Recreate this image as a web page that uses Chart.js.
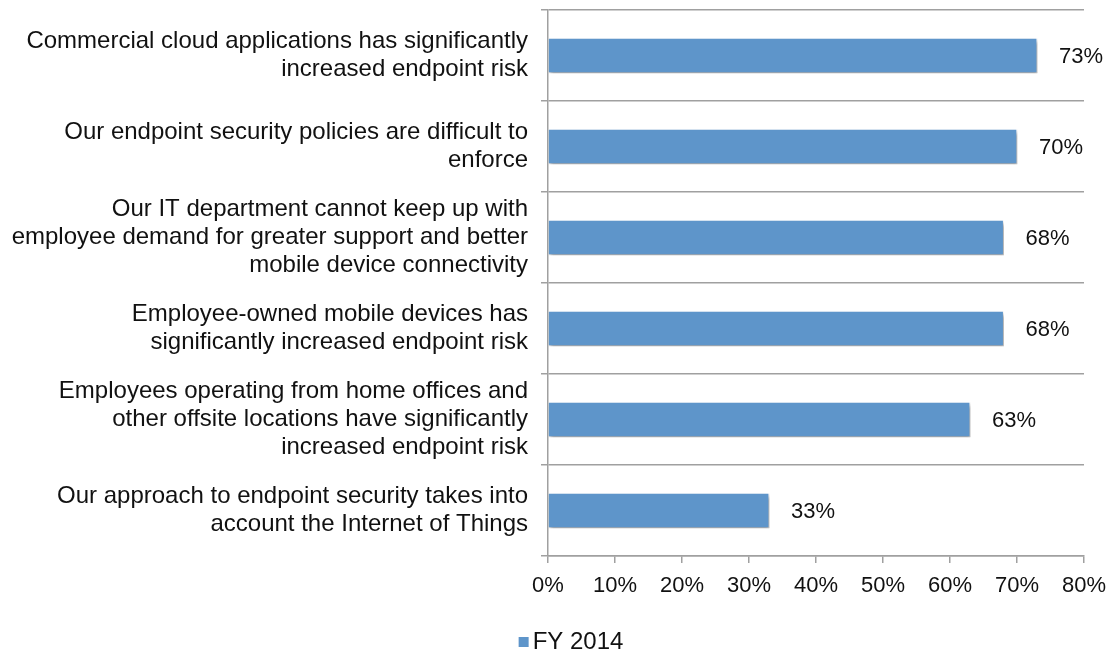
<!DOCTYPE html>
<html>
<head>
<meta charset="utf-8">
<script src="https://cdn.jsdelivr.net/npm/chart.js@4.4.1/dist/chart.umd.min.js"></script>
<style>
  html, body { margin: 0; padding: 0; background: #fff; }
  #wrap { width: 1112px; height: 656px; }
</style>
</head>
<body>
<div id="wrap"><canvas id="c" width="1112" height="656"></canvas></div>
<script>
// Survey statements (multi-line category labels)
const categories = [
  ["Commercial cloud applications has significantly", "increased endpoint risk"],
  ["Our endpoint security policies are difficult to", "enforce"],
  ["Our IT department cannot keep up with", "employee demand for greater support and better", "mobile device connectivity"],
  ["Employee-owned mobile devices has", "significantly increased endpoint risk"],
  ["Employees operating from home offices and", "other offsite locations have significantly", "increased endpoint risk"],
  ["Our approach to endpoint security takes into", "account the Internet of Things"]
];
const seriesName = "FY 2014";
const fy2014 = [73, 70, 68, 68, 63, 33];
const xTicks = [0, 10, 20, 30, 40, 50, 60, 70, 80];

const FONT = "'Liberation Sans', Arial, Helvetica, sans-serif";
const AXIS = "#a0a0a0";
const BAR = '#5e95ca';

// soft drop shadow under the bars
const barShadow = {
  id: 'barShadow',
  beforeDatasetsDraw(chart) {
    const ctx = chart.ctx;
    ctx.save();
    ctx.shadowColor = 'rgba(0,0,0,0.38)';
    ctx.shadowBlur = 4;
    ctx.shadowOffsetX = 2;
    ctx.shadowOffsetY = 3;
  },
  afterDatasetsDraw(chart) {
    chart.ctx.restore();
  }
};

// percentage labels at the end of each bar
const valueLabels = {
  id: 'valueLabels',
  afterDatasetsDraw(chart) {
    const ctx = chart.ctx;
    const meta = chart.getDatasetMeta(0);
    ctx.save();
    ctx.font = "22px " + FONT;
    ctx.fillStyle = "#111";
    ctx.textAlign = "left";
    ctx.textBaseline = "middle";
    meta.data.forEach((bar, i) => {
      ctx.fillText(chart.data.datasets[0].data[i] + "%", bar.x + 22, bar.y + 1);
    });
    ctx.restore();
  }
};

// compact legend below the axis: small square, then the series name
const seriesKey = {
  id: 'seriesKey',
  afterDraw(chart) {
    const ctx = chart.ctx;
    const ds = chart.data.datasets[0];
    ctx.save();
    ctx.font = "24px " + FONT;
    const tw = ctx.measureText(ds.label).width;
    const total = 10 + 4 + tw;
    const left = (chart.width + 30) / 2 - total / 2;
    const cy = chart.height - 15;
    ctx.fillStyle = ds.backgroundColor;
    ctx.fillRect(left, cy - 4, 10, 10);
    ctx.fillStyle = "#111";
    ctx.textAlign = "left";
    ctx.textBaseline = "middle";
    ctx.fillText(ds.label, left + 14, cy + 1);
    ctx.restore();
  }
};

new Chart(document.getElementById('c'), {
  type: 'bar',
  data: {
    labels: categories,
    datasets: [{
      label: seriesName,
      data: fy2014,
      backgroundColor: BAR,
      borderColor: '#ffffff',
      borderWidth: 1,
      barThickness: 35
    }]
  },
  options: {
    indexAxis: 'y',
    responsive: false,
    animation: false,
    layout: { padding: { top: 10, right: 28, left: 0, bottom: 0 } },
    scales: {
      x: {
        min: 0,
        max: 80,
        afterBuildTicks(scale) { scale.ticks = xTicks.map(v => ({ value: v })); },
        afterFit(scale) {
          scale.height = 100;
          scale.paddingLeft = 0;
          scale.paddingRight = 0;
        },
        grid: { drawOnChartArea: false, drawTicks: true, tickLength: 7, color: AXIS, lineWidth: 1.5 },
        border: { display: true, color: AXIS, width: 1.5 },
        ticks: {
          color: '#111',
          padding: 10,
          font: { size: 22, family: FONT },
          callback: v => v + '%'
        }
      },
      y: {
        afterFit(scale) {
          scale.width = 548;
          scale.paddingTop = 0;
          scale.paddingBottom = 0;
        },
        grid: { offset: true, drawOnChartArea: true, drawTicks: true, tickLength: 7, color: AXIS, lineWidth: 1.5 },
        border: { display: true, color: AXIS, width: 1.5 },
        ticks: {
          color: '#111',
          padding: 13,
          font: { size: 24, family: FONT, lineHeight: 1.17 }
        }
      }
    },
    plugins: {
      legend: { display: false },
      tooltip: { enabled: false }
    }
  },
  plugins: [barShadow, valueLabels, seriesKey]
});
</script>
</body>
</html>
